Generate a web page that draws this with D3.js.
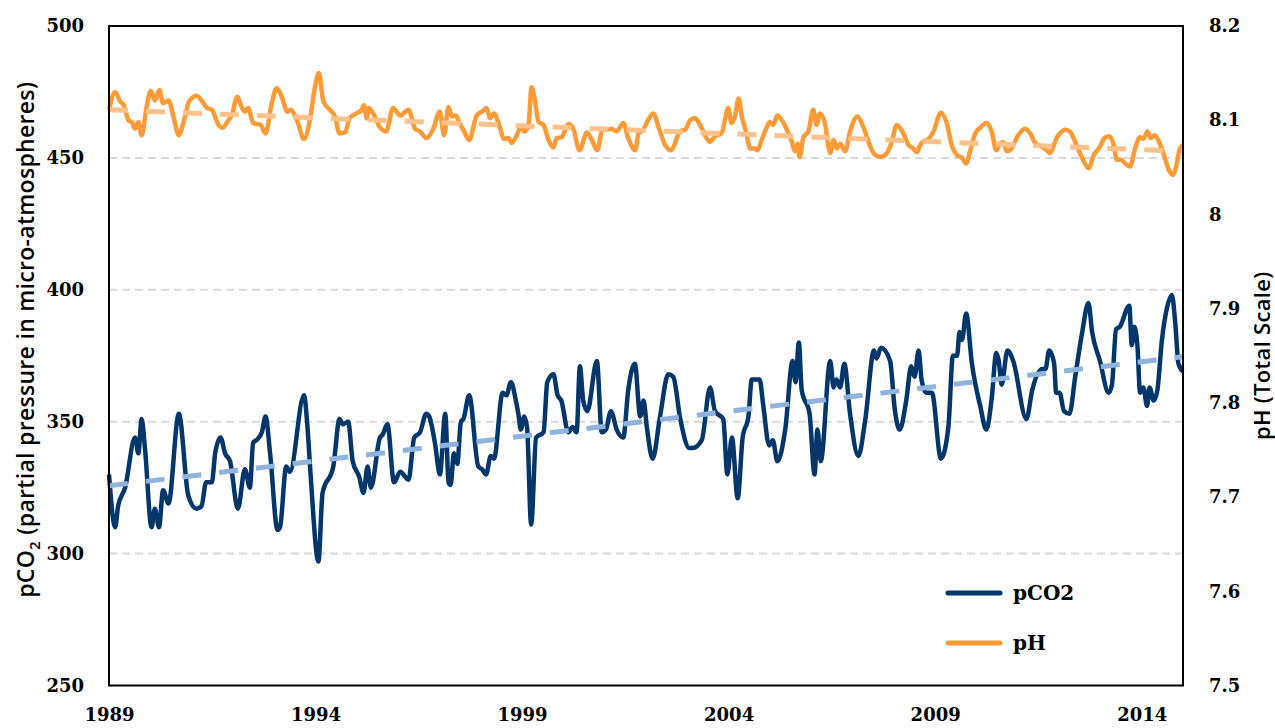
<!DOCTYPE html>
<html><head><meta charset="utf-8">
<script src="https://cdn.jsdelivr.net/npm/d3@7/dist/d3.min.js"></script>
<style>body{margin:0;background:#fff}svg{display:block}</style>
</head><body>
<svg id="chart" width="1275" height="728"></svg>
<script>
// ---------- data ----------
const xTickYears = [1989, 1994, 1999, 2004, 2009, 2014];
const leftTicks = [250, 300, 350, 400, 450, 500];
const rightTicks = [7.5, 7.6, 7.7, 7.8, 7.9, 8, 8.1, 8.2];
const gridValues = [300, 350, 400, 450];

const pco2Time = [1989.00,1989.15,1989.22,1989.39,1989.63,1989.71,1989.79,1989.87,1990.03,1990.11,1990.21,1990.31,1990.44,1990.69,1990.92,1991.12,1991.24,1991.35,1991.49,1991.57,1991.70,1991.81,1991.93,1992.12,1992.29,1992.41,1992.49,1992.57,1992.70,1992.79,1992.90,1993.08,1993.14,1993.29,1993.38,1993.72,1993.80,1993.88,1994.07,1994.17,1994.43,1994.58,1994.66,1994.79,1994.90,1995.06,1995.16,1995.26,1995.34,1995.56,1995.62,1995.74,1995.90,1996.05,1996.25,1996.39,1996.53,1996.68,1996.75,1996.89,1997.01,1997.14,1997.22,1997.27,1997.35,1997.43,1997.52,1997.58,1997.72,1997.94,1998.03,1998.13,1998.24,1998.32,1998.53,1998.62,1998.73,1998.85,1998.91,1998.97,1999.05,1999.12,1999.22,1999.34,1999.52,1999.61,1999.76,1999.86,1999.95,2000.12,2000.22,2000.32,2000.40,2000.48,2000.58,2000.81,2000.93,2001.03,2001.15,2001.29,2001.45,2001.57,2001.73,2001.86,2001.94,2002.02,2002.16,2002.34,2002.54,2002.66,2002.83,2003.05,2003.13,2003.35,2003.55,2003.67,2003.87,2003.97,2004.08,2004.22,2004.34,2004.48,2004.56,2004.75,2004.84,2004.98,2005.07,2005.18,2005.37,2005.55,2005.62,2005.70,2005.77,2005.96,2006.08,2006.15,2006.23,2006.46,2006.54,2006.61,2006.70,2006.80,2006.94,2007.14,2007.31,2007.52,2007.58,2007.69,2007.91,2008.02,2008.14,2008.30,2008.42,2008.50,2008.60,2008.67,2008.78,2008.92,2009.14,2009.32,2009.43,2009.53,2009.59,2009.65,2009.75,2009.89,2010.09,2010.24,2010.37,2010.48,2010.54,2010.61,2010.75,2010.89,2011.21,2011.35,2011.59,2011.67,2011.76,2011.88,2011.93,2012.01,2012.12,2012.25,2012.39,2012.55,2012.71,2012.80,2012.99,2013.20,2013.28,2013.38,2013.47,2013.70,2013.76,2013.82,2013.90,2013.96,2014.04,2014.13,2014.19,2014.29,2014.38,2014.49,2014.61,2014.73,2014.81,2014.89,2015.00];
const pco2Values = [330,310,318,325,344,338,351,340,310,317,310,324,319,353,322,317,318,327,327,338,344,338,335,317,332,325,342,343,346,352,338,309,310,333,331,360,349,330,297,323,333,351,349,350,335,329,323,333,325,344,345,349,327,331,328,344,346,353,352,342,330,353,327,326,338,334,350,351,360,333,332,330,337,336,361,360,365,358,353,347,352,348,311,344,346,365,368,360,358,346,348,346,371,358,354,373,346,347,354,347,344,362,372,352,358,348,336,352,368,367,351,340,340,343,363,354,351,330,344,321,344,352,366,366,356,341,343,335,347,373,365,380,362,353,330,347,335,373,363,366,363,372,353,337,351,377,374,378,373,355,347,358,371,367,377,366,361,361,336,348,375,375,384,381,391,372,356,347,359,376,373,364,377,373,351,362,370,370,377,372,361,361,354,353,367,383,395,384,373,361,364,385,386,394,379,386,378,361,363,356,363,358,362,381,393,398,388,372,369];

const phTime = [1989.00,1989.15,1989.27,1989.36,1989.47,1989.55,1989.63,1989.71,1989.79,1989.91,1990.01,1990.11,1990.22,1990.31,1990.44,1990.57,1990.69,1990.80,1990.94,1991.12,1991.24,1991.37,1991.49,1991.65,1991.75,1991.89,1991.97,1992.11,1992.21,1992.29,1992.37,1992.49,1992.67,1992.79,1992.94,1993.06,1993.18,1993.32,1993.40,1993.55,1993.72,1993.87,1993.99,1994.08,1994.19,1994.35,1994.47,1994.58,1994.72,1994.82,1994.98,1995.12,1995.17,1995.24,1995.29,1995.42,1995.55,1995.71,1995.88,1996.05,1996.25,1996.41,1996.53,1996.69,1996.85,1997.01,1997.11,1997.22,1997.30,1997.40,1997.48,1997.60,1997.72,1997.90,1998.06,1998.14,1998.22,1998.32,1998.47,1998.56,1998.67,1998.75,1998.87,1998.97,1999.05,1999.15,1999.23,1999.31,1999.40,1999.52,1999.64,1999.76,1999.84,1999.96,2000.12,2000.24,2000.39,2000.57,2000.69,2000.82,2000.95,2001.07,2001.17,2001.29,2001.45,2001.57,2001.74,2001.82,2001.92,2002.06,2002.18,2002.30,2002.46,2002.60,2002.70,2002.81,2002.95,2003.07,2003.19,2003.31,2003.43,2003.55,2003.67,2003.83,2003.91,2003.99,2004.07,2004.16,2004.24,2004.32,2004.42,2004.52,2004.64,2004.70,2004.80,2004.90,2005.00,2005.08,2005.18,2005.29,2005.41,2005.53,2005.61,2005.67,2005.72,2005.81,2005.93,2006.05,2006.13,2006.21,2006.33,2006.46,2006.54,2006.62,2006.70,2006.82,2006.94,2007.12,2007.26,2007.43,2007.55,2007.67,2007.83,2007.95,2008.07,2008.23,2008.35,2008.47,2008.56,2008.63,2008.70,2008.84,2008.96,2009.14,2009.28,2009.41,2009.53,2009.65,2009.75,2009.85,2009.97,2010.09,2010.25,2010.37,2010.48,2010.57,2010.65,2010.73,2010.85,2010.97,2011.18,2011.30,2011.42,2011.58,2011.70,2011.78,2011.86,2011.94,2012.02,2012.14,2012.26,2012.42,2012.58,2012.72,2012.82,2012.99,2013.10,2013.22,2013.32,2013.40,2013.50,2013.60,2013.72,2013.84,2013.96,2014.04,2014.14,2014.22,2014.32,2014.44,2014.56,2014.66,2014.76,2014.85,2014.91,2015.00];
const phValues = [8.111,8.130,8.120,8.116,8.100,8.098,8.091,8.098,8.084,8.114,8.131,8.121,8.132,8.118,8.121,8.102,8.084,8.097,8.120,8.126,8.121,8.113,8.111,8.095,8.092,8.100,8.105,8.125,8.114,8.109,8.113,8.097,8.095,8.086,8.118,8.134,8.125,8.109,8.111,8.100,8.080,8.102,8.136,8.150,8.120,8.111,8.104,8.086,8.087,8.102,8.107,8.111,8.116,8.102,8.113,8.105,8.093,8.088,8.113,8.105,8.111,8.091,8.088,8.081,8.091,8.109,8.084,8.114,8.104,8.105,8.097,8.088,8.079,8.105,8.110,8.113,8.102,8.107,8.091,8.080,8.081,8.076,8.084,8.093,8.088,8.093,8.135,8.121,8.098,8.095,8.079,8.071,8.081,8.082,8.096,8.091,8.068,8.087,8.079,8.068,8.091,8.090,8.091,8.088,8.097,8.081,8.068,8.086,8.089,8.101,8.107,8.093,8.074,8.068,8.075,8.088,8.090,8.100,8.102,8.095,8.084,8.077,8.083,8.086,8.100,8.113,8.097,8.105,8.123,8.104,8.088,8.070,8.070,8.068,8.079,8.090,8.098,8.095,8.105,8.100,8.090,8.077,8.067,8.075,8.061,8.082,8.088,8.111,8.095,8.107,8.097,8.065,8.079,8.070,8.075,8.067,8.088,8.104,8.093,8.072,8.063,8.061,8.065,8.077,8.095,8.086,8.074,8.070,8.066,8.073,8.077,8.080,8.088,8.108,8.097,8.072,8.063,8.060,8.054,8.068,8.086,8.092,8.097,8.088,8.068,8.075,8.077,8.067,8.070,8.081,8.091,8.086,8.076,8.072,8.068,8.065,8.072,8.081,8.086,8.090,8.088,8.074,8.058,8.049,8.061,8.072,8.081,8.083,8.074,8.058,8.058,8.054,8.051,8.070,8.082,8.080,8.088,8.081,8.084,8.075,8.060,8.047,8.042,8.054,8.068,8.074];

const trendYears = [1989, 2015];
const pco2Trend = [325.7, 374.6];
const phTrend = [8.111, 8.067];

const seriesNames = ["pCO2", "pH"];
const seriesColors = ["#03366b", "#ff9b37"];
const trendColors = ["#8fb3dc", "#fec28a"];

// ---------- layout ----------
const svg = d3.select("#chart");
const L = 109, R = 1183, T = 26, B = 685.5;
const x = d3.scaleLinear().domain([1989, 2015]).range([L, R]);
const yL = d3.scaleLinear().domain([250, 500]).range([B, T]);
const yR = d3.scaleLinear().domain([7.5, 8.2]).range([B, T]);

const tickFont = "'DejaVu Serif', serif";

// gridlines
svg.append("g").selectAll("line").data(gridValues).join("line")
  .attr("x1", L).attr("x2", R)
  .attr("y1", d => yL(d)).attr("y2", d => yL(d))
  .attr("stroke", "#d9d9d9").attr("stroke-width", 2)
  .attr("stroke-dasharray", "8,5");

// lines
const toPts = (ts, vs) => ts.map((t, i) => [t, vs[i]]);
const lineL = d3.line().x(d => x(d[0])).y(d => yL(d[1])).curve(d3.curveMonotoneX);
const lineR = d3.line().x(d => x(d[0])).y(d => yR(d[1])).curve(d3.curveMonotoneX);

svg.append("path").datum(toPts(phTime, phValues)).attr("d", lineR)
  .attr("fill", "none").attr("stroke", seriesColors[1]).attr("stroke-width", 4.5)
  .attr("stroke-linejoin", "round");
svg.append("path").datum(toPts(trendYears, phTrend)).attr("d", lineR)
  .attr("fill", "none").attr("stroke", trendColors[1]).attr("stroke-width", 5)
  .attr("stroke-dasharray", "19,18");

svg.append("path").datum(toPts(pco2Time, pco2Values)).attr("d", lineL)
  .attr("fill", "none").attr("stroke", seriesColors[0]).attr("stroke-width", 4.5)
  .attr("stroke-linejoin", "round");
svg.append("path").datum(toPts(trendYears, pco2Trend)).attr("d", lineL)
  .attr("fill", "none").attr("stroke", trendColors[0]).attr("stroke-width", 5)
  .attr("stroke-dasharray", "19,18");

// frame
svg.append("rect").attr("x", L).attr("y", T).attr("width", R - L).attr("height", B - T)
  .attr("fill", "none").attr("stroke", "#000").attr("stroke-width", 2);

// axes
function styleAxis(g) {
  g.select(".domain").remove();
  g.selectAll("line").remove();
  g.selectAll("text").attr("font-family", tickFont).attr("font-weight", "bold")
    .attr("font-size", 18).attr("fill", "#000");
}
svg.append("g").attr("transform", `translate(${L},0)`)
  .call(d3.axisLeft(yL).tickValues(leftTicks).tickSize(0).tickPadding(25).tickFormat(d3.format("d")))
  .call(styleAxis);
svg.append("g").attr("transform", `translate(${R},0)`)
  .call(d3.axisRight(yR).tickValues(rightTicks).tickSize(0).tickPadding(26).tickFormat(d => String(d)))
  .call(styleAxis);
svg.append("g").attr("transform", `translate(0,${B})`)
  .call(d3.axisBottom(x).tickValues(xTickYears).tickSize(0).tickPadding(23).tickFormat(d3.format("d")))
  .call(styleAxis);

// axis titles
const titleFont = "'Open Sans', sans-serif";
const lt = svg.append("text")
  .attr("transform", `translate(34,${(T + B) / 2 - 16}) rotate(-90)`)
  .attr("text-anchor", "middle").attr("font-family", titleFont)
  .attr("font-weight", 600).attr("font-size", 23).attr("letter-spacing", 0.3).attr("fill", "#000");
lt.append("tspan").text("pCO");
lt.append("tspan").text("2").attr("font-size", 15).attr("dy", 6);
lt.append("tspan").text(" (partial pressure in micro-atmospheres)").attr("dy", -6);

svg.append("text")
  .attr("transform", `translate(1270,${(T + B) / 2}) rotate(-90)`)
  .attr("text-anchor", "middle").attr("font-family", titleFont)
  .attr("font-weight", 600).attr("font-size", 22).attr("letter-spacing", 0.3).attr("fill", "#000")
  .text("pH (Total Scale)");

// legend
const legend = svg.append("g").attr("transform", "translate(948,593)");
seriesNames.forEach((name, i) => {
  const g = legend.append("g").attr("transform", `translate(0,${i * 50})`);
  g.append("line").attr("x1", 0).attr("x2", 52).attr("y1", 0).attr("y2", 0)
    .attr("stroke", seriesColors[i]).attr("stroke-width", 5).attr("stroke-linecap", "round");
  g.append("text").attr("x", 65).attr("y", 0).attr("dy", "0.35em")
    .attr("font-family", tickFont).attr("font-weight", "bold").attr("font-size", 20)
    .attr("fill", "#000").text(name);
});
</script>
</body></html>
